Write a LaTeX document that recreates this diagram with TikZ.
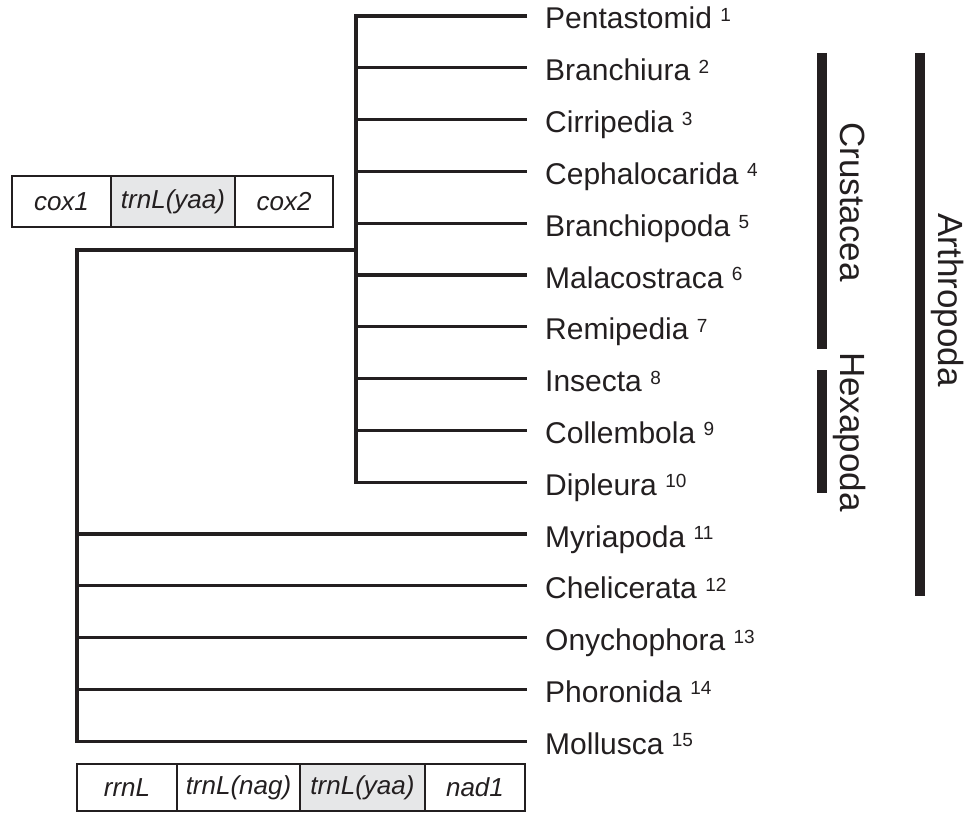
\documentclass[tikz,border=0pt]{standalone}
\usepackage{fontspec}
\setmainfont{Liberation Sans}
\definecolor{ink}{HTML}{231F20}
\definecolor{cellgray}{HTML}{E6E7E8}
\newcommand\supnum[1]{\raisebox{7.5pt}{\fontsize{19}{19}\selectfont #1}}
\begin{document}
\begin{tikzpicture}[x=1pt,y=-1pt,
  tree/.style={draw=ink,line width=3.3pt,line join=miter},
  bar/.style={draw=ink,line width=10pt},
  leaf/.style={anchor=base west,inner sep=0pt,text=ink,font=\fontsize{30}{30}\selectfont},
  clade/.style={anchor=base,rotate=-90,inner sep=0pt,text=ink,font=\fontsize{35}{35}\selectfont},
  gene/.style={draw=ink,line width=2.5pt,inner sep=0pt,outer sep=0pt,minimum height=#1,text=ink,font=\fontsize{26}{26}\selectfont\itshape},
  gene/.default=51pt]
\useasboundingbox (0,0) rectangle (976,813);
% leaf coordinates
\foreach \i in {1,...,15} {
  \pgfmathsetmacro\yy{16+51.8*(\i-1)}
  \coordinate (e\i) at (527,\yy);
  \coordinate (t\i) at (545,\yy+13);
  \coordinate (a\i) at (356,\yy);
  \coordinate (b\i) at (77,\yy);
}
\coordinate (jin) at (356,250);
\coordinate (jout) at (77,250);
% inner clade
\draw[tree] (e1) -- (a1) -- (a10) -- (e10);
\foreach \i in {2,...,9} { \draw[tree] (a\i) -- (e\i); }
% outer clade
\draw[tree] (jin) -- (jout) -- (b15) -- (e15);
\foreach \i in {11,...,14} { \draw[tree] (b\i) -- (e\i); }
% leaf labels
\node[leaf] (n1) at (t1) {Pentastomid \supnum{1}};
\node[leaf] (n2) at (t2) {Branchiura \supnum{2}};
\node[leaf] (n3) at (t3) {Cirripedia \supnum{3}};
\node[leaf] (n4) at (t4) {Cephalocarida \supnum{4}};
\node[leaf] (n5) at (t5) {Branchiopoda \supnum{5}};
\node[leaf] (n6) at (t6) {Malacostraca \supnum{6}};
\node[leaf] (n7) at (t7) {Remipedia \supnum{7}};
\node[leaf] (n8) at (t8) {Insecta \supnum{8}};
\node[leaf] (n9) at (t9) {Collembola \supnum{9}};
\node[leaf] (n10) at (t10) {Dipleura \supnum{10}};
\node[leaf] (n11) at (t11) {Myriapoda \supnum{11}};
\node[leaf] (n12) at (t12) {Chelicerata \supnum{12}};
\node[leaf] (n13) at (t13) {Onychophora \supnum{13}};
\node[leaf] (n14) at (t14) {Phoronida \supnum{14}};
\node[leaf] (n15) at (t15) {Mollusca \supnum{15}};
% clade bars
\coordinate (crA) at (821.5,53); \coordinate (crB) at (821.5,349);
\coordinate (hxA) at (821.5,370); \coordinate (hxB) at (821.5,493);
\coordinate (arA) at (920,53); \coordinate (arB) at (920,596);
\draw[bar] (crA) -- (crB);
\draw[bar] (hxA) -- (hxB);
\draw[bar] (arA) -- (arB);
\node[clade] (crus) at (840,202) {Crustacea};
\node[clade] (hexa) at (840,432) {Hexapoda};
\node[clade] (arth) at (938,300) {Arthropoda};
% gene order boxes (top)
\node[gene, minimum width=99pt] (g1) at (61.5,201.5) {cox1};
\node[gene, minimum width=124pt, fill=cellgray] (g2) at (173,201.5) {trnL(yaa)};
\node[gene, minimum width=98pt] (g3) at (284,201.5) {cox2};
% gene order boxes (bottom)
\node[gene=47pt, minimum width=100pt] (h1) at (127,787.5) {rrnL};
\node[gene=47pt, minimum width=123pt] (h2) at (238.5,787.5) {trnL(nag)};
\node[gene=47pt, minimum width=125pt, fill=cellgray] (h3) at (362.5,787.5) {trnL(yaa)};
\node[gene=47pt, minimum width=100pt] (h4) at (475,787.5) {nad1};
\end{tikzpicture}
\end{document}
